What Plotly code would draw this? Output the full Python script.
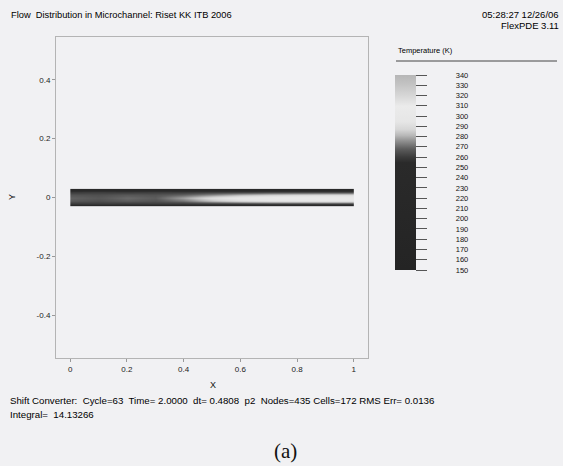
import plotly.graph_objects as go

# ---- data -------------------------------------------------------------
x_pos = [0.0, 0.1, 0.2, 0.3, 0.4, 0.5, 0.6, 0.7, 0.8, 0.9, 1.0]
y_pos = [-0.03, -0.02, -0.01, 0.0, 0.01, 0.02, 0.03]
temperature = [
    [236, 236, 236, 236, 236, 236, 236, 236, 236, 236, 236],
    [259, 260, 259, 260, 259, 260, 260, 261, 261, 261, 261],
    [267, 265, 268, 266, 272, 283, 290, 294, 296, 297, 297],
    [269, 267, 270, 268, 278, 290, 297, 301, 303, 304, 304],
    [266, 265, 267, 266, 269, 275, 281, 285, 287, 288, 288],
    [259, 260, 259, 260, 259, 260, 260, 261, 261, 261, 261],
    [236, 236, 236, 236, 236, 236, 236, 236, 236, 236, 236],
]
cbar_ticks = [340, 330, 320, 310, 300, 290, 280, 270, 260, 250,
              240, 230, 220, 210, 200, 190, 180, 170, 160, 150]
x_ticks = [0, 0.2, 0.4, 0.6, 0.8, 1]
x_tick_text = ["0", "0.2", "0.4", "0.6", "0.8", "1"]
y_ticks = [0.4, 0.2, 0, -0.2, -0.4]
y_tick_text = ["0.4", "0.2", "0", "-0.2", "-0.4"]

title_text = "Flow  Distribution in Microchannel: Riset KK ITB 2006"
stamp_text = "05:28:27 12/26/06"
version_text = "FlexPDE 3.11"
status_text = ("Shift Converter:  Cycle=63  Time= 2.0000  dt= 0.4808  p2  "
               "Nodes=435 Cells=172 RMS Err= 0.0136")
integral_text = "Integral=  14.13266"

# ---- layout geometry (pixels) ----------------------------------------
W, H = 563, 466
L, R, T, B = 56, 368, 37, 358
PW, PH = R - L, B - T


def px(xp):
    return (xp - L) / PW


def py(yp):
    return (B - yp) / PH


gray_scale = [
    [0.00, "#242424"],
    [0.55, "#2a2a2a"],
    [0.58, "#3c3c3c"],
    [0.62, "#5c5c5c"],
    [0.66, "#8e8e8e"],
    [0.69, "#b8b8b8"],
    [0.72, "#d6d6d6"],
    [0.76, "#e6e6e6"],
    [0.84, "#ebebeb"],
    [0.89, "#d8d8d8"],
    [0.95, "#c4c4c4"],
    [1.00, "#b6b6b6"],
]

font_main = "Liberation Sans, Arial, sans-serif"
pad = "\u2003\u2003\u2003\u2002\u2009"

fig = go.Figure()
fig.add_trace(go.Contour(
    x=x_pos, y=y_pos, z=temperature,
    zmin=150, zmax=340, zauto=False,
    colorscale=gray_scale,
    contours=dict(coloring="heatmap", showlines=False),
    line=dict(width=0),
    colorbar=dict(
        x=px(395), xanchor="left", xref="paper",
        y=py(75), yanchor="top", yref="paper",
        len=195, lenmode="pixels",
        thickness=21, thicknessmode="pixels",
        xpad=0, ypad=0, outlinewidth=0,
        tickmode="array", tickvals=cbar_ticks,
        ticktext=[pad + str(t) for t in cbar_ticks],
        ticks="outside", ticklen=11, tickwidth=1, tickcolor="#555",
        tickfont=dict(family=font_main, size=7.5, color="#111"),
    ),
    hoverinfo="skip",
))

axis_common = dict(
    showgrid=False, zeroline=False, showline=True, mirror=True,
    linecolor="#b4b4b4", linewidth=1,
    ticks="outside", ticklen=3, tickcolor="#999",
    tickfont=dict(family=font_main, size=8, color="#222"),
)

fig.update_layout(
    width=W, height=H,
    margin=dict(l=L, r=W - R, t=T, b=H - B),
    paper_bgcolor="#f1f1f3", plot_bgcolor="#f1f1f3",
    showlegend=False,
    xaxis=dict(range=[-0.05, 1.05], tickmode="array", tickvals=x_ticks,
               ticktext=x_tick_text, **axis_common),
    yaxis=dict(range=[-0.545, 0.545], tickmode="array", tickvals=y_ticks,
               ticktext=y_tick_text, **axis_common),
)

ann = [
    dict(text=title_text, x=px(9), y=py(15), xanchor="left", yanchor="middle",
         font=dict(size=9.3, family=font_main, color="#000")),
    dict(text=stamp_text, x=px(561), y=py(15), xanchor="right", yanchor="middle",
         font=dict(size=9.5, family=font_main, color="#000")),
    dict(text=version_text, x=px(561), y=py(25), xanchor="right", yanchor="middle",
         font=dict(size=9.5, family=font_main, color="#000")),
    dict(text="Temperature (K)", x=px(396), y=py(50), xanchor="left", yanchor="middle",
         font=dict(size=7.5, family=font_main, color="#000")),
    dict(text="X", x=px(213), y=py(385), xanchor="center", yanchor="middle",
         font=dict(size=9, family=font_main, color="#111")),
    dict(text="Y", x=px(12), y=py(197), xanchor="center", yanchor="middle",
         textangle=-90, font=dict(size=9, family=font_main, color="#111")),
    dict(text=status_text, x=px(8), y=py(401), xanchor="left", yanchor="middle",
         font=dict(size=9.7, family=font_main, color="#000")),
    dict(text=integral_text, x=px(8), y=py(414), xanchor="left", yanchor="middle",
         font=dict(size=9.7, family=font_main, color="#000")),
    dict(text="(a)", x=px(285), y=py(451), xanchor="center", yanchor="middle",
         font=dict(size=21, family="Liberation Serif, DejaVu Serif, serif", color="#111")),
]
for a in ann:
    a.update(xref="paper", yref="paper", showarrow=False)
fig.update_layout(annotations=ann)

fig.add_shape(type="line", xref="paper", yref="paper",
              x0=px(396), x1=px(557), y0=py(61), y1=py(61),
              line=dict(color="#444", width=1))

fig.write_html("out.html")
